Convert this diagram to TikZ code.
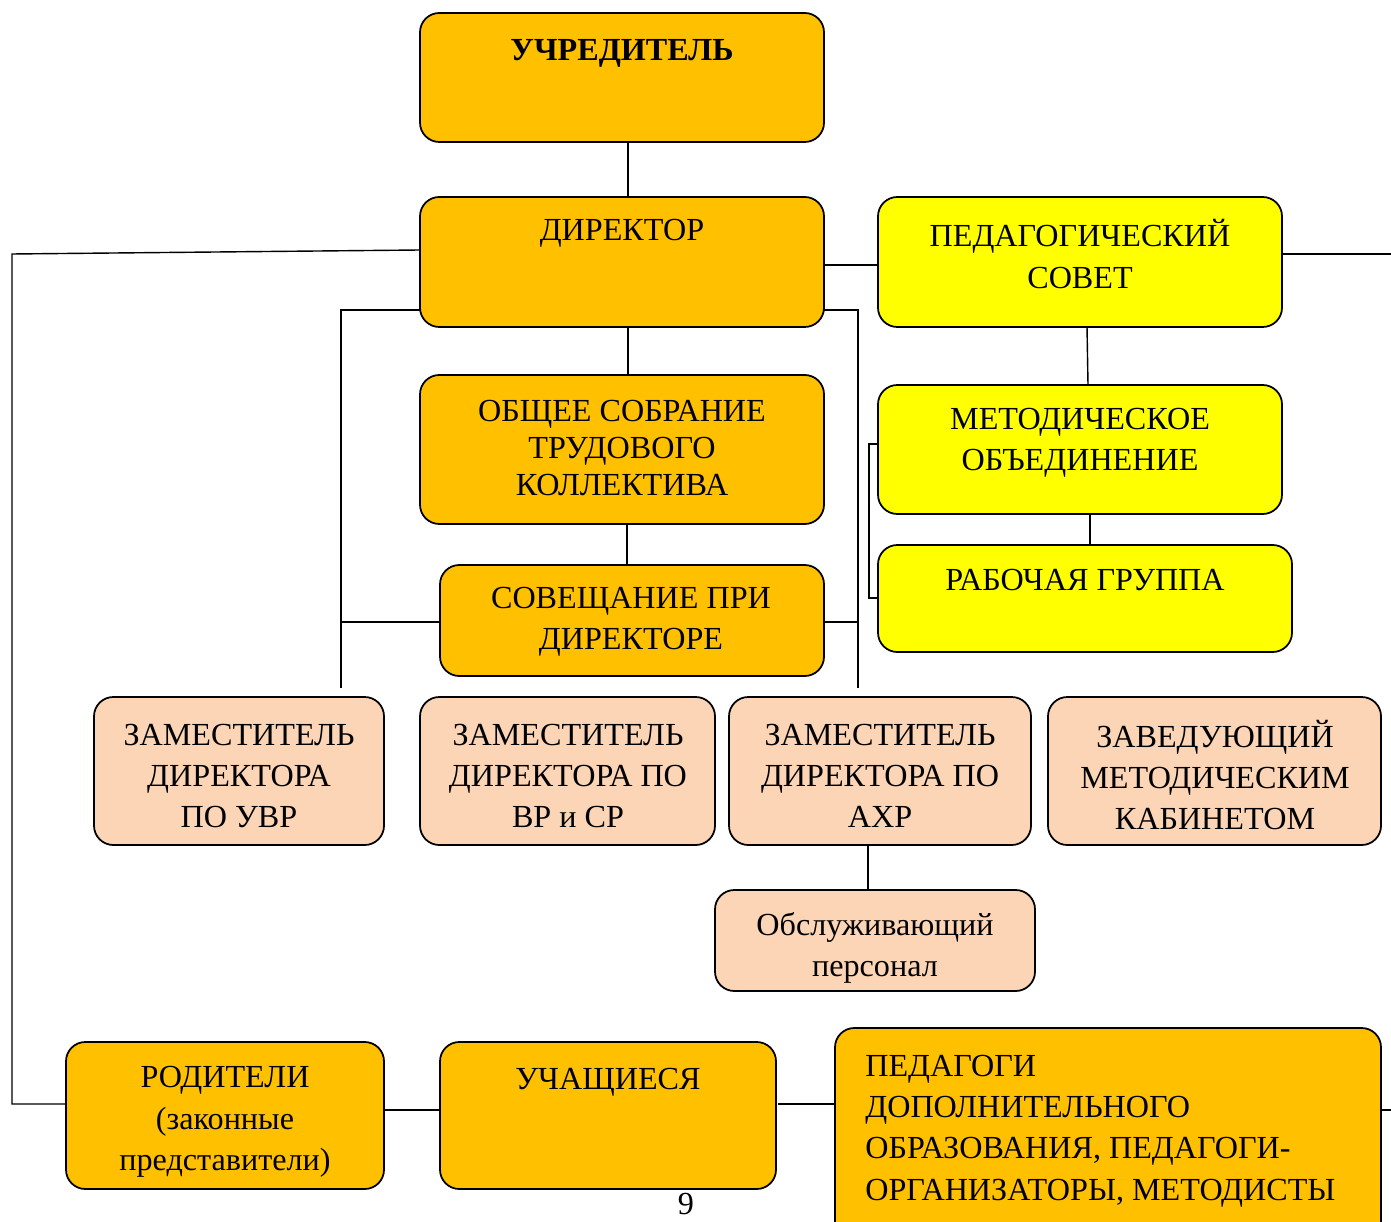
\documentclass[tikz,border=0pt]{standalone}
\usepackage{fontspec}
\setmainfont{Liberation Serif}
\usepackage{tikz}

\definecolor{orangebox}{HTML}{FFC000}
\definecolor{yellowbox}{HTML}{FFFF00}
\definecolor{peachbox}{HTML}{FBD5B5}

\tikzset{
  box/.style={draw=black, line width=1pt, rounded corners=11pt},
  txt/.style={align=center, font=\fontsize{18.3}{23.5}\selectfont, inner sep=0pt},
  link/.style={draw=black, line width=0.8pt}
}

\begin{document}
\begin{tikzpicture}[x=0.02cm, y=-0.02cm]
                \useasboundingbox (0,0) rectangle (1391,1222);
                % boxes
                \draw[box, fill=orangebox] (420,13) rectangle (824,142);
                \draw[box, fill=orangebox] (420,197) rectangle (824,327);
                \draw[box, fill=yellowbox] (878,197) rectangle (1282,327);
                \draw[box, fill=orangebox] (420,375) rectangle (824,524);
                \draw[box, fill=orangebox] (440,565) rectangle (824,676);
                \draw[box, fill=yellowbox] (878,385) rectangle (1282,514);
                \draw[box, fill=yellowbox] (878,545) rectangle (1292,652);
                \draw[box, fill=peachbox] (94,697) rectangle (384,845);
                \draw[box, fill=peachbox] (420,697) rectangle (715,845);
                \draw[box, fill=peachbox] (729,697) rectangle (1031,845);
                \draw[box, fill=peachbox] (1048,697) rectangle (1381,845);
                \draw[box, fill=peachbox] (715,890) rectangle (1035,991);
                \draw[box, fill=orangebox] (66,1042) rectangle (384,1189);
                \draw[box, fill=orangebox] (440,1042) rectangle (776,1189);
                \draw[box, fill=orangebox] (835,1028) rectangle (1381,1260);
                % anchor points on the boxes
                \coordinate (uchr) at (628,142);
                \coordinate (dirT) at (628,197);
                \coordinate (dirB) at (628,327);
                \coordinate (dirL) at (420,250);
                \coordinate (dirR) at (824,265);
                \coordinate (dirLB) at (420,310);
                \coordinate (dirRB) at (824,310);
                \coordinate (psL) at (878,265);
                \coordinate (psR) at (1282,254);
                \coordinate (psB) at (1087,327);
                \coordinate (edgeR) at (1391,254);
                \coordinate (obT) at (628,375);
                \coordinate (obB) at (627,524);
                \coordinate (sovT) at (627,565);
                \coordinate (sovL) at (440,622);
                \coordinate (sovR) at (824,622);
                \coordinate (moT) at (1088,385);
                \coordinate (moB) at (1090,514);
                \coordinate (moL) at (878,444);
                \coordinate (rgT) at (1090,545);
                \coordinate (rgL) at (878,598);
                \coordinate (ahrB) at (868,845);
                \coordinate (obsT) at (868,890);
                \coordinate (rodL) at (66,1104);
                \coordinate (rodR) at (384,1110);
                \coordinate (uchL) at (440,1110);
                \coordinate (uchR) at (778,1104);
                \coordinate (pedL) at (835,1104);
                \coordinate (pedR) at (1381,1110);
                \coordinate (edgeR2) at (1391,1110);
                \coordinate (lBr) at (341,688);
                \coordinate (rBr) at (858,688);
                % connectors
                \draw[link] (uchr) -- (dirT);
                \draw[link] (dirL) -- (12,254) -- (12,1104) -- (rodL);
                \draw[link] (dirR) -- (psL);
                \draw[link] (psR) -- (edgeR);
                \draw[link] (dirB) -- (obT);
                \draw[link] (obB) -- (sovT);
                \draw[link] (dirLB) -- (341,310) -- (lBr);
                \draw[link] (341,622) -- (sovL);
                \draw[link] (dirRB) -- (858,310) -- (rBr);
                \draw[link] (sovR) -- (858,622);
                \draw[link] (psB) -- (moT);
                \draw[link] (moB) -- (rgT);
                \draw[link] (moL) -- (869,444) -- (869,598) -- (rgL);
                \draw[link] (ahrB) -- (obsT);
                \draw[link] (rodR) -- (uchL);
                \draw[link] (uchR) -- (pedL);
                \draw[link] (pedR) -- (edgeR2);
                % texts
                \node[txt, font=\fontsize{18.3}{23.5}\selectfont\bfseries] at (622,53) (t1) {УЧРЕДИТЕЛЬ};
                \node[txt] at (622,233) (t2) {ДИРЕКТОР};
                \node[txt] at (1080,254) (t3) {ПЕДАГОГИЧЕСКИЙ\\СОВЕТ};
                \node[txt, font=\fontsize{18.3}{21}\selectfont] at (622,448) (t4) {ОБЩЕЕ СОБРАНИЕ\\ТРУДОВОГО\\КОЛЛЕКТИВА};
                \node[txt] at (631,622) (t5) {СОВЕЩАНИЕ ПРИ\\ДИРЕКТОРЕ};
                \node[txt] at (1080,443) (t6) {МЕТОДИЧЕСКОЕ\\ОБЪЕДИНЕНИЕ};
                \node[txt] at (1085,580) (t7) {РАБОЧАЯ ГРУППА};
                \node[txt] at (239,776) (t8) {ЗАМЕСТИТЕЛЬ\\ДИРЕКТОРА\\ПО УВР};
                \node[txt] at (568,776) (t9) {ЗАМЕСТИТЕЛЬ\\ДИРЕКТОРА ПО\\ВР и СР};
                \node[txt] at (880,776) (t10) {ЗАМЕСТИТЕЛЬ\\ДИРЕКТОРА ПО\\АХР};
                \node[txt] at (1215,775) (t11) {ЗАВЕДУЮЩИЙ\\МЕТОДИЧЕСКИМ\\КАБИНЕТОМ};
                \node[txt] at (875,948) (t12) {Обслуживающий\\персонал};
                \node[txt] at (225,1122) (t13) {РОДИТЕЛИ\\(законные\\представители)};
                \node[txt] at (608,1082) (t14) {УЧАЩИЕСЯ};
                \node[txt, align=left, anchor=west] at (865,1131) (t15) {ПЕДАГОГИ\\ДОПОЛНИТЕЛЬНОГО\\ОБРАЗОВАНИЯ, ПЕДАГОГИ-\\ОРГАНИЗАТОРЫ, МЕТОДИСТЫ};
                \node[txt] at (686,1204) (pg) {9};
            \end{tikzpicture}
\end{document}
